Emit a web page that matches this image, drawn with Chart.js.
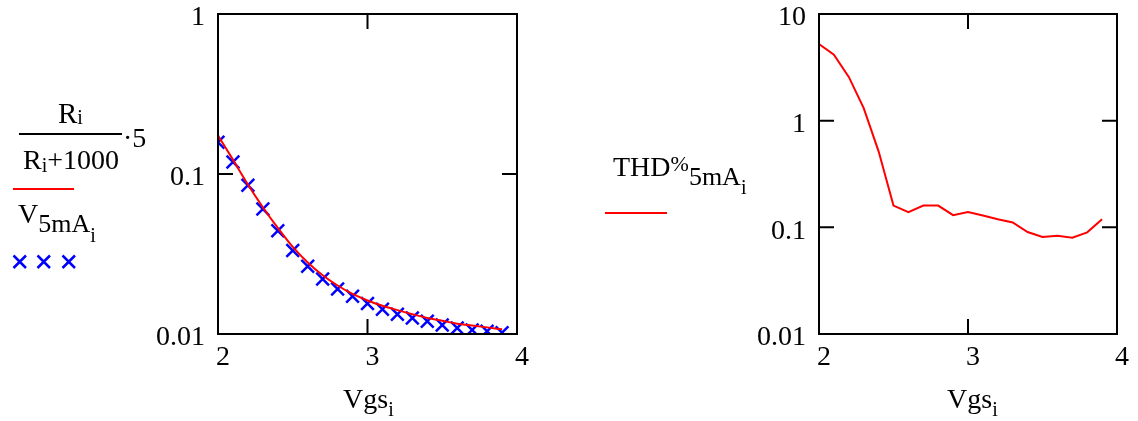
<!DOCTYPE html>
<html>
<head>
<meta charset="UTF-8" />
<title>Vgs plots</title>
<script src="https://cdn.jsdelivr.net/npm/chart.js"></script>
<style>
  body { margin: 0; background: #fff; }
  #page { position: relative; width: 1138px; height: 421px; overflow: hidden; font-family: 'Liberation Serif', 'Times New Roman', serif; color: #000; }
  canvas { position: absolute; }
  .t { position: absolute; font-size: 28px; line-height: 1; white-space: nowrap; }
  .t span { position: relative; }
  .rule { position: absolute; height: 2px; }
</style>
</head>
<body>
<div id="page">
  <canvas id="leftChart" width="580" height="480" style="left:0; top:-30px;"></canvas>
  <canvas id="rightChart" width="580" height="480" style="left:600px; top:-30px;"></canvas>

  <!-- legend, left plot -->
  <div class="t" style="left:58px; top:99px; font-size:29px;">R<span style="font-size:20px; top:1px;">i</span></div>
  <div class="rule" style="left:19px; top:133px; width:103px; background:#000;"></div>
  <div class="t" style="left:23px; top:146px;">R<span style="font-size:20px; top:3px;">i</span>+1000</div>
  <div class="t" style="left:123px; top:124px;">·5</div>
  <div class="rule" style="left:13px; top:188px; width:61px; background:#f00;"></div>
  <div class="t" style="left:18px; top:200px;">V<span style="font-size:26px; top:9px;">5mA</span><span style="font-size:20px; top:19px;">i</span></div>
  <svg style="position:absolute; left:12px; top:254px;" width="66" height="16">
    <g stroke="#0000ff" stroke-width="2.5" fill="none">
      <path d="M1.5 1.5 L14 14 M14 1.5 L1.5 14" />
      <path d="M25.5 1.5 L38 14 M38 1.5 L25.5 14" />
      <path d="M50.5 1.5 L63 14 M63 1.5 L50.5 14" />
    </g>
  </svg>

  <!-- legend, right plot -->
  <div class="t" style="left:613px; top:153px;">THD<span style="font-size:22px; top:-5px;">%</span><span style="font-size:26px; top:9px;">5mA</span><span style="font-size:20px; top:18px;">i</span></div>
  <div class="rule" style="left:605px; top:212px; width:62px; background:#f00;"></div>

  <!-- axis titles -->
  <div class="t" style="left:343px; top:385px;">Vgs<span style="font-size:20px; top:8px;">i</span></div>
  <div class="t" style="left:947px; top:385px;">Vgs<span style="font-size:20px; top:8px;">i</span></div>
</div>

<script>
  // Vgs sweep (V)
  const vgs = [2.0, 2.1, 2.2, 2.3, 2.4, 2.5, 2.6, 2.7, 2.8, 2.9,
               3.0, 3.1, 3.2, 3.3, 3.4, 3.5, 3.6, 3.7, 3.8, 3.9];

  // Ri/(Ri+1000)*5, red curve
  const dividerOut = [0.174, 0.123, 0.086, 0.062, 0.046, 0.035, 0.028, 0.0233, 0.0201, 0.0178,
                      0.0162, 0.0150, 0.0141, 0.0133, 0.0126, 0.0121, 0.0116, 0.0113, 0.0110, 0.0107];

  // V5mA measured, blue crosses
  const v5mA = [0.158, 0.119, 0.085, 0.0604, 0.0442, 0.0333, 0.0265, 0.0221, 0.0191, 0.0172,
                0.0155, 0.0143, 0.0133, 0.0126, 0.0120, 0.0114, 0.0109, 0.0106, 0.0104, 0.0102];

  // THD% at 5mA
  const thd5mA = [5.23, 4.16, 2.57, 1.31, 0.516, 0.160, 0.139, 0.160, 0.160, 0.130,
                  0.139, 0.129, 0.119, 0.111, 0.0904, 0.0812, 0.0835, 0.080, 0.0898, 0.119];

  const xTicks = [2, 3, 4];
  const leftYTicks = [0.01, 0.1, 1];
  const rightYTicks = [0.01, 0.1, 1, 10];

  Chart.defaults.font.family = "'Liberation Serif', 'Times New Roman', serif";
  Chart.defaults.font.size = 28;
  Chart.defaults.color = '#000';

  const pts = arr => arr.map((y, i) => ({ x: vgs[i], y: y }));

  // frame with inward tick marks on all four sides
  const framePlugin = {
    id: 'frame',
    afterDatasetsDraw(chart) {
      const { ctx, chartArea: a, scales } = chart;
      const len = 15;
      ctx.save();
      ctx.strokeStyle = '#000';
      ctx.lineWidth = 2;
      ctx.strokeRect(a.left, a.top, a.right - a.left, a.bottom - a.top);
      ctx.beginPath();
      scales.x.ticks.forEach(t => {
        const px = scales.x.getPixelForValue(t.value);
        ctx.moveTo(px, a.bottom); ctx.lineTo(px, a.bottom - len);
        ctx.moveTo(px, a.top); ctx.lineTo(px, a.top + len);
      });
      scales.y.ticks.forEach(t => {
        const py = scales.y.getPixelForValue(t.value);
        ctx.moveTo(a.left, py); ctx.lineTo(a.left + len, py);
        ctx.moveTo(a.right, py); ctx.lineTo(a.right - len, py);
      });
      ctx.stroke();
      ctx.restore();
    }
  };

  function makeOptions(yMin, yMax, yTicks, padLeft) {
    return {
      responsive: false,
      animation: false,
      layout: { padding: { left: padLeft, right: 63, top: 44, bottom: 66 } },
      plugins: { legend: { display: false }, tooltip: { enabled: false } },
      scales: {
        x: {
          type: 'linear', min: 2, max: 4,
          afterFit: s => { s.height = 50; },
          afterBuildTicks: s => { s.ticks = xTicks.map(v => ({ value: v })); },
          grid: { display: false, drawTicks: false },
          border: { display: false },
          ticks: { padding: 7, labelOffset: 5, maxRotation: 0, callback: v => String(v) }
        },
        y: {
          type: 'logarithmic', min: yMin, max: yMax,
          afterFit: s => { s.width = 80; },
          afterBuildTicks: s => { s.ticks = yTicks.map(v => ({ value: v })); },
          grid: { display: false, drawTicks: false },
          border: { display: false },
          ticks: { padding: 13, labelOffset: 4, callback: v => String(v) }
        }
      }
    };
  }

  new Chart(document.getElementById('leftChart'), {
    type: 'line',
    data: {
      datasets: [
        {
          label: 'Ri/(Ri+1000)·5',
          data: pts(dividerOut),
          borderColor: '#ff0000',
          borderWidth: 2,
          pointRadius: 0,
          cubicInterpolationMode: 'monotone',
          fill: false,
          clip: 0
        },
        {
          label: 'V5mA',
          data: pts(v5mA),
          showLine: false,
          pointStyle: 'crossRot',
          pointRadius: 9,
          borderColor: '#0000ff',
          borderWidth: 2.5,
          clip: 0
        }
      ]
    },
    options: makeOptions(0.01, 1, leftYTicks, 138),
    plugins: [framePlugin]
  });

  new Chart(document.getElementById('rightChart'), {
    type: 'line',
    data: {
      datasets: [
        {
          label: 'THD%5mA',
          data: pts(thd5mA),
          borderColor: '#ff0000',
          borderWidth: 2,
          pointRadius: 0,
          tension: 0,
          fill: false,
          clip: 0
        }
      ]
    },
    options: makeOptions(0.01, 10, rightYTicks, 139),
    plugins: [framePlugin]
  });
</script>
</body>
</html>
